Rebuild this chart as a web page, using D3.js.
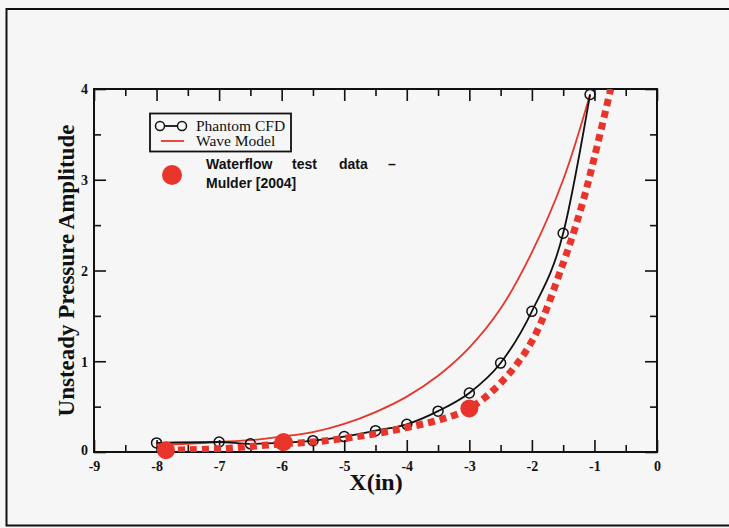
<!DOCTYPE html>
<html><head><meta charset="utf-8">
<script src="https://cdn.jsdelivr.net/npm/d3@7"></script>
<style>
html,body{margin:0;padding:0;background:#f6f6f6;}
svg{display:block;}
.tick text{font-family:'Liberation Serif','Times New Roman',serif;font-size:14px;font-weight:bold;}
</style></head>
<body>
<svg id="chart" width="729" height="528"></svg>
<script>
// ---- data ----
const cfdX = [-8, -7, -6.5, -6, -5.5, -5, -4.5, -4, -3.5, -3, -2.5, -2, -1.5, -1.07];
const cfdY = [0.10, 0.11, 0.09, 0.10, 0.125, 0.17, 0.235, 0.305, 0.45, 0.65, 0.98, 1.55, 2.41, 3.94];

const waveX = [-8, -7.5, -7, -6.5, -6, -5.5, -5, -4.5, -4, -3.5, -3, -2.5, -2, -1.5, -1.07];
const waveY = [0.08, 0.09, 0.11, 0.13, 0.17, 0.22, 0.31, 0.44, 0.61, 0.84, 1.15, 1.58, 2.20, 3.00, 3.94];

const fitX = [-7.85, -7.5, -7, -6.5, -6, -5.5, -5, -4.5, -4, -3.5, -3, -2.5, -2, -1.5, -1.2, -1, -0.74];
const fitY = [0.02, 0.025, 0.035, 0.06, 0.09, 0.11, 0.15, 0.20, 0.27, 0.35, 0.48, 0.76, 1.22, 2.08, 2.72, 3.25, 4.0];

const testX = [-7.85, -5.97, -3.0];
const testY = [0.02, 0.11, 0.48];

const xTicks = [-9, -8, -7, -6, -5, -4, -3, -2, -1, 0];
const yTicks = [0, 1, 2, 3, 4];

const seriesNames = ["Phantom CFD", "Wave Model"];
const testLabel1 = ["Waterflow", "test", "data", "\u2013"];
const testLabel2 = "Mulder [2004]";

// ---- layout ----
const svg = d3.select("#chart");
const L = 94, R = 657, T = 89, B = 452;
const x = d3.scaleLinear().domain([-9, 0]).range([L, R]);
const y = d3.scaleLinear().domain([0, 4]).range([B, T]);
const RED = "#e8352b";
const BG = "#f6f6f6";
const serif = "'Liberation Serif','Times New Roman',serif";
const sans = "'Liberation Sans',Arial,sans-serif";
const fmt = d => String(d);   // plain hyphen-minus as in the reference

svg.append("rect").attr("width", 729).attr("height", 528).attr("fill", BG);
// outer frame
svg.append("rect").attr("x", 6.5).attr("y", 9).attr("width", 740).attr("height", 516.5)
  .attr("fill", "none").attr("stroke", "#111").attr("stroke-width", 2);

// ---- axes (ticks inward on all four sides) ----
const minorX = d3.range(-8.5, 0, 1);
const minorY = d3.range(0.5, 4, 1);
const majorLen = 12, minorLen = 7;

const gx = svg.append("g").attr("transform", `translate(0,${B})`)
  .call(d3.axisBottom(x).tickValues(xTicks).tickSize(-majorLen).tickFormat(fmt));
const gxm = svg.append("g").attr("transform", `translate(0,${B})`)
  .call(d3.axisBottom(x).tickValues(minorX).tickSize(-minorLen).tickFormat(""));
const gxt = svg.append("g").attr("transform", `translate(0,${T})`)
  .call(d3.axisTop(x).tickValues(xTicks).tickSize(-majorLen).tickFormat(""));
const gxtm = svg.append("g").attr("transform", `translate(0,${T})`)
  .call(d3.axisTop(x).tickValues(minorX).tickSize(-minorLen).tickFormat(""));
const gy = svg.append("g").attr("transform", `translate(${L},0)`)
  .call(d3.axisLeft(y).tickValues(yTicks).tickSize(-majorLen).tickFormat(fmt));
const gym = svg.append("g").attr("transform", `translate(${L},0)`)
  .call(d3.axisLeft(y).tickValues(minorY).tickSize(-minorLen).tickFormat(""));
const gyr = svg.append("g").attr("transform", `translate(${R},0)`)
  .call(d3.axisRight(y).tickValues(yTicks).tickSize(-majorLen).tickFormat(""));
const gyrm = svg.append("g").attr("transform", `translate(${R},0)`)
  .call(d3.axisRight(y).tickValues(minorY).tickSize(-minorLen).tickFormat(""));

[gx, gxm, gxt, gxtm, gy, gym, gyr, gyrm].forEach(g => {
  g.attr("font-size", 14).attr("font-family", serif);
  g.select(".domain").remove();
  g.selectAll(".tick line").attr("stroke", "#111").attr("stroke-width", 1.6);
  g.selectAll(".tick text").attr("fill", "#111").attr("font-size", 14);
});
gx.selectAll(".tick text").attr("y", 9).attr("dy", "0.71em");
gy.selectAll(".tick text").attr("x", -6).attr("dy", "0.35em");
gy.selectAll(".tick text").filter(d => d === 0).attr("dy", "0.2em");

// plot frame
svg.append("rect").attr("x", L).attr("y", T).attr("width", R - L).attr("height", B - T)
  .attr("fill", "none").attr("stroke", "#111").attr("stroke-width", 2);

// axis titles
svg.append("text").attr("x", 376).attr("y", 490).attr("text-anchor", "middle")
  .attr("font-family", serif).attr("font-weight", "bold").attr("font-size", 24).attr("fill", "#111").text("X(in)");
svg.append("text").attr("transform", `translate(74,${(T + B) / 2}) rotate(-90)`)
  .attr("text-anchor", "middle").attr("font-family", serif).attr("font-weight", "bold")
  .attr("font-size", 23).attr("fill", "#111").text("Unsteady Pressure Amplitude");

// ---- series ----
const zip = (xs, ys) => xs.map((v, i) => [v, ys[i]]);

const clip = svg.append("clipPath").attr("id", "plotclip");
clip.append("rect").attr("x", L).attr("y", T).attr("width", R - L).attr("height", B - T);
const plot = svg.append("g").attr("clip-path", "url(#plotclip)");

plot.append("path").datum(zip(waveX, waveY))
  .attr("d", d3.line().x(d => x(d[0])).y(d => y(d[1])).curve(d3.curveCatmullRom.alpha(0.5)))
  .attr("fill", "none").attr("stroke", RED).attr("stroke-width", 1.8);

plot.append("path").datum(zip(cfdX, cfdY))
  .attr("d", d3.line().x(d => x(d[0])).y(d => y(d[1])).curve(d3.curveMonotoneX))
  .attr("fill", "none").attr("stroke", "#111").attr("stroke-width", 1.8);

plot.selectAll("circle.cfd").data(zip(cfdX, cfdY)).join("circle").attr("class", "cfd")
  .attr("cx", d => x(d[0])).attr("cy", d => y(d[1])).attr("r", 5)
  .attr("fill", "none").attr("stroke", "#111").attr("stroke-width", 1.5);

plot.append("path").datum(zip(fitX, fitY))
  .attr("d", d3.line().x(d => x(d[0])).y(d => y(d[1])).curve(d3.curveCatmullRom.alpha(0.5)))
  .attr("fill", "none").attr("stroke", RED).attr("stroke-width", 7).attr("stroke-dasharray", "7,5");

svg.selectAll("circle.test").data(zip(testX, testY)).join("circle").attr("class", "test")
  .attr("cx", d => x(d[0])).attr("cy", d => y(d[1])).attr("r", 9).attr("fill", RED);

// ---- legend ----
const lg = svg.append("g");
lg.append("rect").attr("x", 150).attr("y", 113.5).attr("width", 141).attr("height", 38)
  .attr("fill", BG).attr("stroke", "#111").attr("stroke-width", 1.8);
lg.append("line").attr("x1", 160).attr("x2", 182).attr("y1", 126).attr("y2", 126)
  .attr("stroke", "#111").attr("stroke-width", 1.8);
[160, 182].forEach(cx => lg.append("circle").attr("cx", cx).attr("cy", 126).attr("r", 4.5)
  .attr("fill", BG).attr("stroke", "#111").attr("stroke-width", 1.5));
lg.append("line").attr("x1", 161).attr("x2", 184).attr("y1", 141).attr("y2", 141)
  .attr("stroke", RED).attr("stroke-width", 1.8);
lg.selectAll("text.sn").data(seriesNames).join("text").attr("class", "sn")
  .attr("x", 196).attr("y", (d, i) => 130.5 + i * 15.5)
  .attr("font-family", serif).attr("font-size", 15.5).attr("fill", "#111").text(d => d);

lg.append("circle").attr("cx", 172).attr("cy", 175).attr("r", 10).attr("fill", RED);
const wordX = [206, 292, 339, 388];
lg.selectAll("text.t1").data(testLabel1).join("text").attr("class", "t1")
  .attr("x", (d, i) => wordX[i]).attr("y", 168.5)
  .attr("font-family", sans).attr("font-weight", "bold").attr("font-size", 14).attr("fill", "#111").text(d => d);
lg.append("text").attr("x", 206).attr("y", 187.5)
  .attr("font-family", sans).attr("font-weight", "bold").attr("font-size", 14).attr("fill", "#111").text(testLabel2);
</script>
</body></html>
